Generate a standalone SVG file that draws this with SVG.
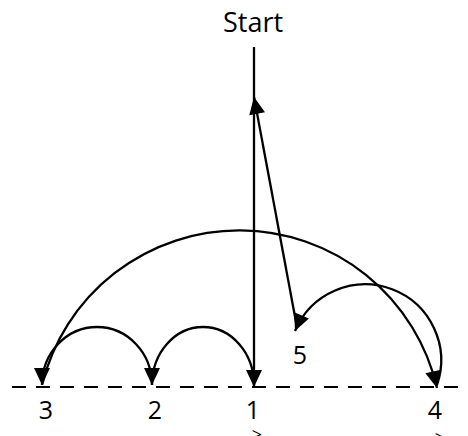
<svg xmlns="http://www.w3.org/2000/svg" width="468" height="436" viewBox="0 0 468 436">
<style>
.c{fill:none;stroke:#000;stroke-width:2.3}
.t{font-family:"Open Sans","Liberation Sans",sans-serif;fill:#000;text-anchor:middle}
</style>
<defs>
<marker id="ah" markerUnits="userSpaceOnUse" markerWidth="18" markerHeight="18" refX="17" refY="8" orient="auto" overflow="visible">
<path d="M0,0 L17,8 L0,16 z" fill="#000"/>
</marker>
</defs>
<rect width="468" height="436" fill="#fff"/>
<g id="axis">
<path d="M12,387 H460" stroke="#000" stroke-width="2.2" stroke-dasharray="14 10" fill="none"/>
</g>
<g id="connectors">
<path class="c" d="M254,47 L254,387" marker-end="url(#ah)"/>
<path class="c" d="M254,385 A51 58 0 0 0 152,385" marker-end="url(#ah)"/>
<path class="c" d="M152,385 A55 58 0 0 0 42,385" marker-end="url(#ah)"/>
<path class="c" d="M42,385 A203 203 0 0 1 437,388" marker-end="url(#ah)"/>
<path class="c" d="M437,385 A76 76 0 0 0 295,331" marker-end="url(#ah)"/>
<path class="c" d="M296,322 L254,97" marker-end="url(#ah)"/>
</g>
<g id="start"><text class="t" x="253" y="32" font-size="27">Start</text></g>
<g id="n3"><text class="t" x="46" y="419" font-size="25">3</text></g>
<g id="n2"><text class="t" x="155" y="419" font-size="25">2</text></g>
<g id="n1"><text class="t" x="253" y="419" font-size="25">1</text><text class="t" x="257" y="441" font-size="18">&gt;</text></g>
<g id="n4"><text class="t" x="435" y="419" font-size="25">4</text><text class="t" x="440" y="444" font-size="18">&gt;</text></g>
<g id="n5"><text class="t" x="300" y="364" font-size="25">5</text></g>
</svg>
